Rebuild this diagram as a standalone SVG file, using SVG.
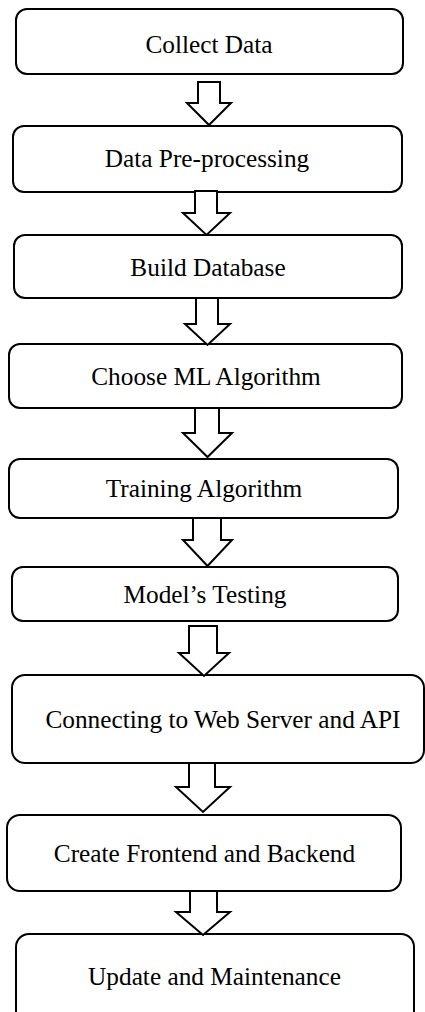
<svg xmlns="http://www.w3.org/2000/svg" width="425" height="1012" viewBox="0 0 425 1012">
<style>
.box{fill:#fff;stroke:#000;stroke-width:2}
.arr{fill:#fff;stroke:#000;stroke-width:2;stroke-linejoin:miter}
text{font-family:"Liberation Serif","Times New Roman",serif;font-size:25.3px;fill:#000;text-anchor:middle}
</style>
<rect width="425" height="1012" fill="#fff"/>
<g id="n1"><rect class="box" x="16" y="9" width="387" height="65" rx="11"/><text x="209" y="52.5">Collect Data</text></g>
<g id="n2"><rect class="box" x="13" y="126" width="389" height="66" rx="11"/><text x="207" y="167">Data Pre-processing</text></g>
<g id="n3"><rect class="box" x="14" y="235" width="388" height="63" rx="11"/><text x="208" y="276">Build Database</text></g>
<g id="n4"><rect class="box" x="9" y="344" width="393" height="64" rx="11"/><text x="206" y="385">Choose ML Algorithm</text></g>
<g id="n5"><rect class="box" x="9" y="459" width="389" height="59" rx="11"/><text x="204" y="497">Training Algorithm</text></g>
<g id="n6"><rect class="box" x="12" y="567" width="386" height="54" rx="11"/><text x="205" y="603">Model’s Testing</text></g>
<g id="n7"><rect class="box" x="12" y="675" width="412" height="88" rx="13"/><text x="223" y="728">Connecting to Web Server and API</text></g>
<g id="n8"><rect class="box" x="7" y="815" width="394" height="76" rx="13"/><text x="204.5" y="862">Create Frontend and Backend</text></g>
<g id="n9"><rect class="box" x="16" y="934" width="398" height="90" rx="13"/><text x="214.5" y="985">Update and Maintenance</text></g>
<g id="connectors">
<polygon class="arr" points="198,82 220,82 220,103 231,103 209,125 187,103 198,103"/>
<polygon class="arr" points="195,191 217,191 217,213 230,213 206.5,235 183,213 195,213"/>
<polygon class="arr" points="196,298 218,298 218,324 230,324 207.5,345 185,324 196,324"/>
<polygon class="arr" points="195,408 219,408 219,433 232,433 207.5,457 183,433 195,433"/>
<polygon class="arr" points="193,518 221,518 221,540 232,540 207.5,566 183,540 193,540"/>
<polygon class="arr" points="189,626 217,626 217,653 229,653 204,676 179,653 189,653"/>
<polygon class="arr" points="189,763 215,763 215,787 230,787 203,812 176,787 189,787"/>
<polygon class="arr" points="190,891 217,891 217,912 230,912 203,935 176,912 190,912"/>
</g>
</svg>
